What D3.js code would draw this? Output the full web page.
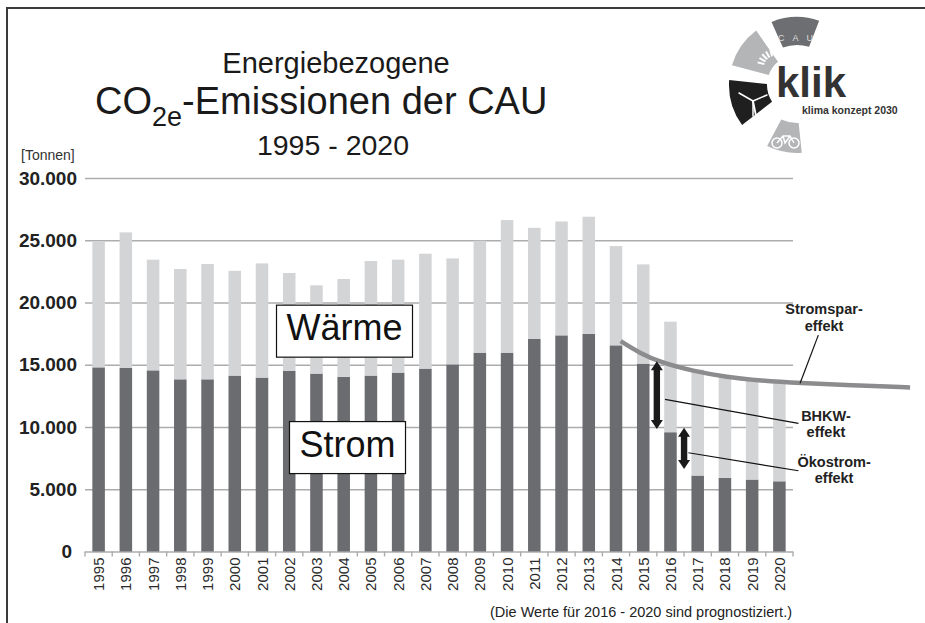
<!DOCTYPE html>
<html>
<head>
<meta charset="utf-8">
<script src="https://cdn.jsdelivr.net/npm/d3@7"></script>
<style>
body { margin: 0; background: #fff; }
svg { display: block; font-family: "Liberation Sans", Arial, sans-serif; }
</style>
</head>
<body>
<div id="chart"></div>
<script>
const years = [1995, 1996, 1997, 1998, 1999, 2000, 2001, 2002, 2003, 2004, 2005, 2006, 2007,
               2008, 2009, 2010, 2011, 2012, 2013, 2014, 2015, 2016, 2017, 2018, 2019, 2020];
// Tonnen CO2e
const strom  = [14790, 14740, 14550, 13830, 13830, 14130, 13970, 14500, 14290, 14020, 14130, 14370, 14690,
                15030, 15970, 15970, 17070, 17360, 17470, 16560, 15090, 9580, 6100, 5910, 5780, 5640];
const waerme = [10070, 10890, 8890, 8860, 9260, 8420, 9170, 7870, 7090, 7870, 9200, 9070, 9230,
                8510, 8990, 10650, 8930, 9150, 9420, 7970, 7970, 8880, 8510, 8110, 8020, 7900];
const yTicks = [0, 5000, 10000, 15000, 20000, 25000, 30000];

// Stromspar-Kurve: x als Jahres-Index (0 = 1995), y in Tonnen
const sparIdx = [19.17, 19.88, 20.62, 21.83, 23.08, 24.29, 25.76, 27.60, 29.80];
const sparVal = [16900, 15930, 15210, 14490, 14000, 13720, 13520, 13360, 13180];

// Doppelpfeile [index, von, bis]
const arrows = [
    [20.5, 15290, 9830],   // BHKW
    [21.5, 9940, 6620]     // Ökostrom
];

// Beschriftungen: Zeilen, Index, Tonnen (Grundlinie der ersten Zeile), Linie von -> bis
const notes = [
    { lines: ["Stromspar-", "effekt"], idx: 26.64, val: 19060, from: [25.76, 13520], to: [26.43, 17380] },
    { lines: ["BHKW-", "effekt"], idx: 26.71, val: 10500, from: [20.80, 12215], to: [25.70, 10290] },
    { lines: ["Ökostrom-", "effekt"], idx: 27.01, val: 6810, from: [21.66, 7930], to: [25.70, 6485] }
];

const boxLabels = [
    { text: "Wärme", idx: 9.03, val: 16975 },
    { text: "Strom", idx: 9.14, val: 7625 }
];

const width = 925, height = 623;
const plotLeft = 85, plotRight = 793, plotTop = 178, plotBottom = 551.5;

const svg = d3.select("#chart").append("svg")
    .attr("width", width)
    .attr("height", height);

// Rahmen
svg.append("path")
    .attr("d", `M7,${height + 5}V8H${width + 5}`)
    .attr("fill", "none")
    .attr("stroke", "#3a3a3a")
    .attr("stroke-width", 2);

const x = d3.scaleBand()
    .domain(years)
    .range([plotLeft, plotRight])
    .paddingInner(0.54)
    .paddingOuter(0.27);

const y = d3.scaleLinear()
    .domain([0, 30000])
    .range([plotBottom, plotTop]);

const xIdx = d3.scaleLinear()
    .domain([0, years.length - 1])
    .range([x(years[0]) + x.bandwidth() / 2, x(years[years.length - 1]) + x.bandwidth() / 2]);

const de = d3.formatLocale({ decimal: ",", thousands: ".", grouping: [3], currency: ["", " €"] });

// Titel
const title = svg.append("g").attr("fill", "#1a1a1a");
title.append("text")
    .attr("x", 336).attr("y", 73)
    .attr("text-anchor", "middle")
    .attr("font-size", 29)
    .text("Energiebezogene");
const co = title.append("text")
    .attr("x", 95).attr("y", 114)
    .attr("font-size", 38);
co.append("tspan").text("CO");
co.append("tspan").attr("font-size", 27).attr("dy", 12).text("2e");
co.append("tspan").attr("dy", -12).text("-Emissionen der CAU");
title.append("text")
    .attr("x", 333).attr("y", 155)
    .attr("text-anchor", "middle")
    .attr("font-size", 28.5)
    .text("1995 - 2020");

svg.append("text")
    .attr("x", 21).attr("y", 160)
    .attr("font-size", 14)
    .attr("fill", "#333")
    .text("[Tonnen]");

// y-Achse mit Gitterlinien
const yAxis = svg.append("g")
    .attr("transform", `translate(${plotLeft},0)`)
    .call(d3.axisLeft(y)
        .tickValues(yTicks)
        .tickSize(-(plotRight - plotLeft))
        .tickPadding(8)
        .tickFormat(de.format(",d")));
yAxis.select(".domain").remove();
yAxis.selectAll(".tick line")
    .attr("stroke", "#acacac")
    .attr("stroke-width", 1.6);
yAxis.selectAll(".tick text")
    .attr("font-family", "Liberation Sans, Arial, sans-serif")
    .attr("font-size", 19)
    .attr("font-weight", "bold")
    .attr("fill", "#222")
    .attr("dx", d => d === 0 ? -5 : 0);

// x-Achse: Teilstriche zwischen den Balken
svg.append("g")
    .selectAll("line")
    .data(d3.range(years.length + 1))
    .join("line")
    .attr("x1", i => plotLeft + i * x.step())
    .attr("x2", i => plotLeft + i * x.step())
    .attr("y1", plotBottom)
    .attr("y2", plotBottom + 5)
    .attr("stroke", "#acacac")
    .attr("stroke-width", 1.4);

// gestapelte Balken
const rows = years.map((yr, i) => ({ year: yr, strom: strom[i], waerme: waerme[i] }));
const stack = d3.stack().keys(["strom", "waerme"])(rows);
const colors = { strom: "#6b6c70", waerme: "#d3d4d6" };

svg.append("g")
    .selectAll("g")
    .data(stack)
    .join("g")
    .attr("fill", d => colors[d.key])
    .selectAll("rect")
    .data(d => d)
    .join("rect")
    .attr("x", d => x(d.data.year))
    .attr("width", x.bandwidth())
    .attr("y", d => y(d[1]))
    .attr("height", d => y(d[0]) - y(d[1]));

// x-Beschriftung
svg.append("g")
    .selectAll("text")
    .data(years)
    .join("text")
    .attr("transform", d => `translate(${x(d) + x.bandwidth() / 2 + 5.5},${plotBottom + 6}) rotate(-90)`)
    .attr("text-anchor", "end")
    .attr("font-size", 15)
    .attr("fill", "#2a2a2a")
    .text(d => d);

// Wärme / Strom Kästen
boxLabels.forEach(b => {
    const g = svg.append("g");
    const rect = g.append("rect");
    const t = g.append("text")
        .attr("x", xIdx(b.idx))
        .attr("y", y(b.val))
        .attr("text-anchor", "middle")
        .attr("font-size", 36)
        .attr("fill", "#111")
        .text(b.text);
    const bb = t.node().getBBox();
    rect.attr("x", bb.x - 10)
        .attr("width", bb.width + 20)
        .attr("y", y(b.val) - 35)
        .attr("height", 52)
        .attr("fill", "#fff")
        .attr("stroke", "#111")
        .attr("stroke-width", 1.2);
});

// Stromspar-Kurve
const sparLine = d3.line()
    .x(d => xIdx(d[0]))
    .y(d => y(d[1]))
    .curve(d3.curveBasis);
svg.append("path")
    .datum(sparIdx.map((v, i) => [v, sparVal[i]]))
    .attr("d", sparLine)
    .attr("fill", "none")
    .attr("stroke", "#8c8c8e")
    .attr("stroke-width", 4.5);

// Doppelpfeile
function dblArrow(cx, y1, y2) {
    const hw = 6, sw = 3.2, hl = 9;
    const p = d3.path();
    p.moveTo(cx - sw, y1 + hl);
    p.lineTo(cx - hw, y1 + hl);
    p.lineTo(cx, y1);
    p.lineTo(cx + hw, y1 + hl);
    p.lineTo(cx + sw, y1 + hl);
    p.lineTo(cx + sw, y2 - hl);
    p.lineTo(cx + hw, y2 - hl);
    p.lineTo(cx, y2);
    p.lineTo(cx - hw, y2 - hl);
    p.lineTo(cx - sw, y2 - hl);
    p.closePath();
    return p.toString();
}
svg.append("g")
    .selectAll("path")
    .data(arrows)
    .join("path")
    .attr("d", d => dblArrow(xIdx(d[0]), y(d[1]), y(d[2])))
    .attr("fill", "#1a1a1a");

// Hinweislinien und Texte
const ng = svg.append("g");
ng.selectAll("line")
    .data(notes)
    .join("line")
    .attr("x1", d => xIdx(d.from[0]))
    .attr("y1", d => y(d.from[1]))
    .attr("x2", d => xIdx(d.to[0]))
    .attr("y2", d => y(d.to[1]))
    .attr("stroke", "#111")
    .attr("stroke-width", 1.2);
ng.selectAll("text")
    .data(notes)
    .join("text")
    .attr("text-anchor", "middle")
    .attr("font-size", 14.5)
    .attr("font-weight", "bold")
    .attr("fill", "#222")
    .each(function(d) {
        d3.select(this).selectAll("tspan")
            .data(d.lines)
            .join("tspan")
            .attr("x", xIdx(d.idx))
            .attr("y", (l, i) => y(d.val) + i * 16.5)
            .text(l => l);
    });

// Fußnote
svg.append("text")
    .attr("x", 792).attr("y", 617)
    .attr("text-anchor", "end")
    .attr("font-size", 14.5)
    .attr("fill", "#222")
    .text("(Die Werte für 2016 - 2020 sind prognostiziert.)");

// Logo (vereinfacht)
const logo = svg.append("g").attr("transform", "translate(797,85)");
const seg = d3.arc().innerRadius(32).outerRadius(68).padAngle(0.06);
const segs = [
    { a0: -24, a1: 21, fill: "#6d6e71", r0: 40 },
    { a0: -75, a1: -35, fill: "#b4b5b7", r0: 30 },
    { a0: -128, a1: -84, fill: "#1f1f1f", r0: 30 },
    { a0: -186, a1: -152, fill: "#b4b5b7", r0: 38 }
];
logo.selectAll("path.seg")
    .data(segs)
    .join("path")
    .attr("class", "seg")
    .attr("d", d => seg.innerRadius(d.r0)({ startAngle: d.a0 * Math.PI / 180, endAngle: d.a1 * Math.PI / 180 }))
    .attr("fill", d => d.fill);

// Sonne (Strahlen nach links oben)
const sun = logo.append("g")
    .attr("transform", "translate(-22,-18)")
    .attr("stroke", "#fff")
    .attr("stroke-width", 2);
sun.selectAll("line")
    .data([195, 210, 225, 240, 255])
    .join("line")
    .attr("x1", a => 11 * Math.cos(a * Math.PI / 180))
    .attr("y1", a => 11 * Math.sin(a * Math.PI / 180))
    .attr("x2", a => 18 * Math.cos(a * Math.PI / 180))
    .attr("y2", a => 18 * Math.sin(a * Math.PI / 180));

// Windrad
const wind = logo.append("g")
    .attr("transform", "translate(-44,16)")
    .attr("stroke", "#fff")
    .attr("stroke-linecap", "round");
wind.append("line").attr("x1", 0).attr("y1", 0).attr("x2", 4).attr("y2", 20).attr("stroke-width", 1.8);
[[-14, -8], [14, -6], [0, 15]].forEach(b => {
    wind.append("line").attr("x1", 0).attr("y1", 0).attr("x2", b[0]).attr("y2", b[1]).attr("stroke-width", 1.5);
});

// Fahrrad
const bike = logo.append("g")
    .attr("transform", "translate(-12,58)")
    .attr("fill", "none")
    .attr("stroke", "#fff")
    .attr("stroke-width", 1.5);
bike.append("circle").attr("cx", -8).attr("cy", 0).attr("r", 5);
bike.append("circle").attr("cx", 9).attr("cy", 0).attr("r", 5);
bike.append("path").attr("d", "M-8,0L-2,-7L5,-7L9,0M-2,-7L0,0L5,-7");

logo.append("text")
    .attr("x", -19).attr("y", -44)
    .attr("font-size", 9)
    .attr("letter-spacing", 8)
    .attr("fill", "#dcdcdc")
    .text("CAU");
logo.append("text")
    .attr("x", -21).attr("y", 12)
    .attr("font-size", 42)
    .attr("font-weight", "bold")
    .attr("fill", "#333")
    .text("klik");
logo.append("text")
    .attr("x", 5).attr("y", 29)
    .attr("font-size", 10.5)
    .attr("font-weight", "bold")
    .attr("fill", "#333")
    .text("klima konzept 2030");
</script>
</body>
</html>
